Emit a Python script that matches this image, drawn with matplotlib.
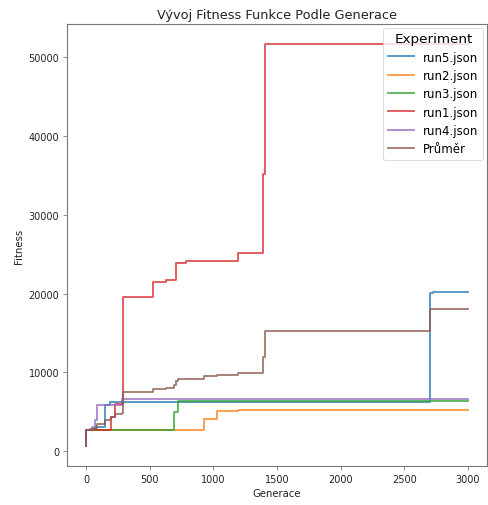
import matplotlib
matplotlib.use('Agg')
import matplotlib.pyplot as plt

# generation breakpoints and best fitness after each (step-post)
run5_gen = [0, 3, 30, 80, 148, 190, 2700, 2727, 3000]
run5_fit = [700, 2700, 2800, 3100, 5850, 6200, 20080, 20240, 20240]

run2_gen = [0, 3, 930, 1026, 1190, 3000]
run2_fit = [700, 2700, 4170, 5140, 5200, 5200]

run3_gen = [0, 3, 688, 721, 797, 3000]
run3_fit = [700, 2700, 5000, 6350, 6450, 6450]

run1_gen = [0, 3, 195, 227, 291, 526, 630, 703, 786, 1190, 1393, 1406, 3000]
run1_fit = [700, 2700, 4380, 6060, 19570, 21500, 21750, 23860, 24080, 25130,
            35100, 51600, 51600]

run4_gen = [0, 3, 50, 70, 83, 279, 3000]
run4_fit = [700, 2700, 3100, 3950, 5930, 6600, 6600]

mean_gen = [0, 3, 30, 50, 70, 80, 83, 148, 190, 195, 227, 279, 291, 526, 630,
            688, 703, 721, 786, 797, 930, 1026, 1190, 1393, 1406, 2700, 2727, 3000]
mean_fit = [700, 2700, 2720, 2800, 2970, 3030, 3426, 3976, 4046, 4382, 4718,
            4852, 7554, 7940, 7990, 8450, 8872, 9142, 9186, 9206, 9500, 9694,
            9916, 11910, 15210, 18020, 18050, 18050]

series = [
    ("run5.json", run5_gen, run5_fit),
    ("run2.json", run2_gen, run2_fit),
    ("run3.json", run3_gen, run3_fit),
    ("run1.json", run1_gen, run1_fit),
    ("run4.json", run4_gen, run4_fit),
    ("Průměr", mean_gen, mean_fit),
]

fig = plt.figure(figsize=(4.88, 5.06), dpi=100)
ax = fig.add_axes([67 / 488, 39 / 506, 420 / 488, 442 / 506])

for name, gen, fit in series:
    ax.plot(gen, fit, drawstyle='steps-post', linewidth=1.3, alpha=0.8, label=name)

ax.set_title("Vývoj Fitness Funkce Podle Generace", fontsize=9.3, pad=4,
             color='#222222')
ax.set_xlabel("Generace", fontsize=7.3, labelpad=3, color='#222222')
ax.set_ylabel("Fitness", fontsize=7.3, labelpad=3, color='#222222')
ax.tick_params(labelsize=7, length=3, width=0.6, color='#777777', pad=2.5,
               labelcolor='#222222')
for sp in ax.spines.values():
    sp.set_color('#777777')
    sp.set_linewidth(0.8)

leg = ax.legend(title="Experiment", loc='upper right', fontsize=8.5,
                title_fontsize=9.7, borderaxespad=0.3, handlelength=2.2,
                labelspacing=0.45)
leg.get_frame().set_linewidth(0.6)

fig.savefig("out.png", dpi=100)
